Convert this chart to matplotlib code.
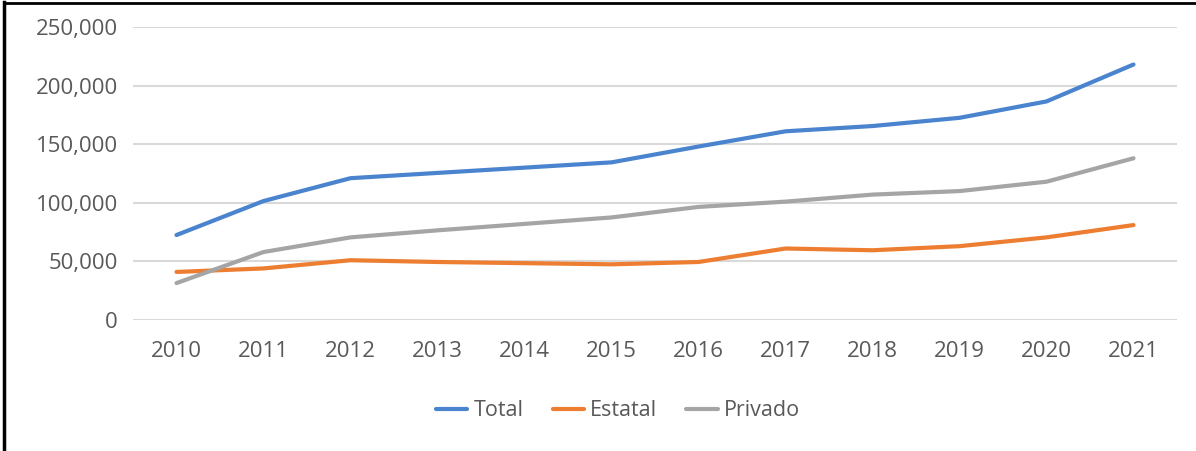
import matplotlib
matplotlib.use("Agg")
import matplotlib.pyplot as plt
from matplotlib.ticker import FuncFormatter, FixedLocator
from matplotlib.lines import Line2D

years = ["2010", "2011", "2012", "2013", "2014", "2015", "2016", "2017", "2018", "2019", "2020", "2021"]
total = [72500, 101500, 121000, 125500, 130000, 134500, 148000, 161000, 165500, 172500, 186500, 218000]
estatal = [41000, 44000, 51000, 49500, 48500, 47500, 49500, 61000, 59500, 63000, 70500, 81000]
privado = [31500, 58000, 70500, 76500, 82000, 87500, 96500, 101000, 107000, 110000, 118000, 138000]
series_names = ["Total", "Estatal", "Privado"]
yticks = [0, 50000, 100000, 150000, 200000, 250000]

colors = ["#4A84CE", "#ED7D31", "#A5A5A5"]
text_color = "#595959"

plt.rcParams['font.family'] = ['Open Sans', 'DejaVu Sans']

W, H = 1196, 451
fig = plt.figure(figsize=(W / 100, H / 100), dpi=100)
fig.patch.set_facecolor("white")

left, right = 133 / W, 1177 / W
bottom, top = (H - 320) / H, (H - 27) / H
ax = fig.add_axes([left, bottom, right - left, top - bottom])

x = list(range(len(years)))
for vals, name, c in zip([total, estatal, privado], series_names, colors):
    ax.plot(x, vals, color=c, lw=3.0, label=name, solid_capstyle="round", solid_joinstyle="round", zorder=3)

ax.set_xlim(-0.5, len(years) - 0.5)
ax.set_ylim(0, 250000)
ax.yaxis.set_major_locator(FixedLocator(yticks))
ax.yaxis.set_major_formatter(FuncFormatter(lambda v, p: f"{v:,.0f}"))
ax.set_xticks(x)
ax.set_xticklabels(years)
ax.tick_params(axis="both", length=0, labelsize=16, colors=text_color)
ax.tick_params(axis="y", pad=11)
ax.tick_params(axis="x", pad=15)
for s in ax.spines.values():
    s.set_visible(False)
ax.grid(axis="y", color="#D9D9D9", lw=1.5, zorder=0)
ax.set_axisbelow(True)

leg = fig.legend(loc="center", bbox_to_anchor=(618 / W, 1 - 411 / H), ncol=3, frameon=False,
                 fontsize=15.5, handlelength=1.45, handletextpad=0.3, columnspacing=1.35)
for t in leg.get_texts():
    t.set_color(text_color)

# frame lines (left and top black border)
fig.add_artist(Line2D([4 / W, 4 / W], [0, 1 - 2 / H], color="black", lw=2.5, transform=fig.transFigure))
fig.add_artist(Line2D([4 / W, 1], [1 - 3 / H, 1 - 3 / H], color="black", lw=2.0, transform=fig.transFigure))

fig.savefig("out.png", dpi=100, facecolor="white")
